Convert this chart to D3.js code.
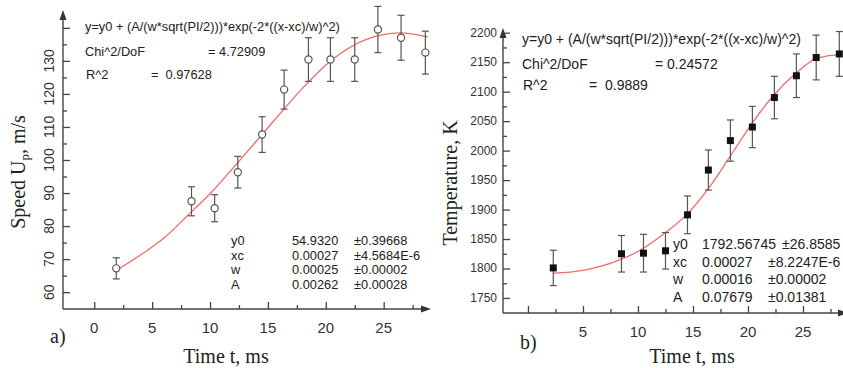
<!DOCTYPE html>
<html lang="en">
<head>
<meta charset="UTF-8">
<title>Gaussian fits: speed and temperature</title>
<script src="https://d3js.org/d3.v7.min.js"></script>
<style>
  body { margin: 0; padding: 0; background: #fff; }
  svg text { font-family: "Liberation Sans", Arial, sans-serif; fill: #222; white-space: pre; }
  .serif { font-family: "Liberation Serif", "Times New Roman", serif; }
  .axis line { stroke: #444; stroke-width: 1.3; }
  .axis path { display: none; }
</style>
</head>
<body>
<svg id="chart" width="843" height="368"></svg>
<script>
// ---- data ----
// panel a) speed
const speedTime = [1.9, 8.4, 10.4, 12.4, 14.5, 16.4, 18.5, 20.4, 22.5, 24.5, 26.5, 28.6];
const speedVal  = [67.2, 87.5, 85.4, 96.3, 107.7, 121.3, 130.4, 130.4, 130.4, 139.5, 137.0, 132.5];
const speedErr  = [3.2, 4.4, 4.1, 4.8, 5.4, 5.9, 6.6, 6.6, 6.6, 7.0, 6.8, 6.5];
const speedFitTime = [2.1, 4.6, 6.0, 8.0, 10.0, 12.0, 15.5, 17.8, 20.6, 23.5, 26.4, 28.8];
const speedFitVal  = [67.0, 72.7, 76.3, 83.0, 89.8, 97.6, 111.8, 121.0, 130.5, 136.5, 138.5, 137.3];
const speedYTicks = [60, 70, 80, 90, 100, 110, 120, 130];
const speedXTicks = [0, 5, 10, 15, 20, 25];
const speedParams = [["y0", "54.9320", "±0.39668"], ["xc", "0.00027", "±4.5684E-6"],
                     ["w", "0.00025", "±0.00002"], ["A", "0.00262", "±0.00028"]];

// panel b) temperature
const tempTime = [2.3, 8.5, 10.5, 12.5, 14.5, 16.4, 18.4, 20.4, 22.4, 24.4, 26.2, 28.3];
const tempVal  = [1801, 1825, 1826, 1830, 1891, 1967, 2017, 2040, 2090, 2127, 2158, 2164];
const tempErr  = [30, 31, 32, 31, 32, 34, 35, 35, 36, 37, 38, 38];
const tempFitTime = [2.3, 5.0, 8.4, 10.2, 12.3, 14.4, 16.5, 18.3, 20.4, 22.2, 24.4, 26.3, 28.4, 30.0];
const tempFitVal  = [1792, 1797, 1815, 1831, 1858, 1891, 1938, 1988, 2047, 2091, 2132, 2157, 2163, 2162];
const tempYTicks = [1750, 1800, 1850, 1900, 1950, 2000, 2050, 2100, 2150, 2200];
const tempXTicks = [5, 10, 15, 20, 25];
const tempParams = [["y0", "1792.56745", "±26.8585"], ["xc", "0.00027", "±8.2247E-6"],
                    ["w", "0.00016", "±0.00002"], ["A", "0.07679", "±0.01381"]];

const formula = "y=y0 + (A/(w*sqrt(PI/2)))*exp(-2*((x-xc)/w)^2)";

const svg = d3.select("#chart");
svg.append("defs").append("clipPath").attr("id", "clipAll")
    .append("rect").attr("width", 843).attr("height", 368);

function arrow(g, x, y, dir) {
    // small filled arrow head, dir "up" or "right"
    const p = dir === "up"
        ? [[x, y], [x - 3.5, y + 10], [x + 3.5, y + 10]]
        : [[x, y], [x - 10, y - 3.5], [x - 10, y + 3.5]];
    g.append("path").attr("d", d3.line()(p)).attr("fill", "#333");
}

function panel(cfg) {
    const g = svg.append("g").attr("clip-path", "url(#clipAll)");
    const x = d3.scaleLinear().domain(cfg.xDomain).range(cfg.xRange);
    const y = d3.scaleLinear().domain(cfg.yDomain).range(cfg.yRange);
    const x0 = cfg.xRange[0], yb = cfg.yRange[0];

    // axis lines
    g.append("line").attr("x1", x0).attr("x2", x0).attr("y1", yb).attr("y2", cfg.yRange[1] + 4)
        .attr("stroke", "#444").attr("stroke-width", 1.4);
    g.append("line").attr("x1", x0).attr("x2", cfg.xArrow - 4).attr("y1", yb).attr("y2", yb)
        .attr("stroke", "#444").attr("stroke-width", 1.4);
    arrow(g, x0, cfg.yRange[1], "up");
    arrow(g, cfg.xArrow, yb, "right");

    // ticks (inside)
    g.append("g").attr("class", "axis").attr("transform", `translate(${x0},0)`)
        .call(d3.axisLeft(y).tickValues(cfg.yMajor).tickSize(-7).tickFormat(""));
    g.append("g").attr("class", "axis").attr("transform", `translate(${x0},0)`)
        .call(d3.axisLeft(y).tickValues(cfg.yMinor).tickSize(-4).tickFormat(""));
    g.append("g").attr("class", "axis").attr("transform", `translate(0,${yb})`)
        .call(d3.axisBottom(x).tickValues(cfg.xMajor).tickSize(-7).tickFormat(""));
    g.append("g").attr("class", "axis").attr("transform", `translate(0,${yb})`)
        .call(d3.axisBottom(x).tickValues(cfg.xMinor).tickSize(-4).tickFormat(""));

    // x tick labels
    g.selectAll(".xl").data(cfg.xLabels).join("text")
        .attr("x", d => x(d)).attr("y", yb + 24)
        .attr("text-anchor", "middle").style("font-size", "15px").style("fill", "#333")
        .text(d => d);

    // y tick labels
    if (cfg.rotYLabels) {
        g.selectAll(".yl").data(cfg.yLabels).join("text")
            .attr("transform", d => `translate(${x0 - 9},${y(d)}) rotate(-90)`)
            .attr("text-anchor", "middle").style("font-size", "14px").style("fill", "#333")
            .text(d => d);
    } else {
        g.selectAll(".yl").data(cfg.yLabels).join("text")
            .attr("x", x0 - 6).attr("y", d => y(d) + 4)
            .attr("text-anchor", "end").style("font-size", "12px").style("fill", "#333")
            .text(d => d);
    }

    // fit curve
    const fit = d3.zip(cfg.fitT, cfg.fitV);
    g.append("path").datum(fit)
        .attr("fill", "none").attr("stroke", "#f26b6b").attr("stroke-width", 1.3)
        .attr("d", d3.line().x(d => x(d[0])).y(d => y(d[1])).curve(d3.curveMonotoneX));

    // error bars
    const pts = cfg.t.map((t, i) => ({ t, v: cfg.v[i], e: cfg.e[i] }));
    const eb = g.append("g").attr("stroke", "#555").attr("stroke-width", 1.2);
    eb.selectAll(".bar").data(pts).join("line")
        .attr("x1", d => x(d.t)).attr("x2", d => x(d.t))
        .attr("y1", d => y(d.v - d.e)).attr("y2", d => y(d.v + d.e));
    eb.selectAll(".capT").data(pts).join("line")
        .attr("x1", d => x(d.t) - 3.5).attr("x2", d => x(d.t) + 3.5)
        .attr("y1", d => y(d.v + d.e)).attr("y2", d => y(d.v + d.e));
    eb.selectAll(".capB").data(pts).join("line")
        .attr("x1", d => x(d.t) - 3.5).attr("x2", d => x(d.t) + 3.5)
        .attr("y1", d => y(d.v - d.e)).attr("y2", d => y(d.v - d.e));

    // markers
    if (cfg.marker === "circle") {
        g.selectAll(".pt").data(pts).join("circle")
            .attr("cx", d => x(d.t)).attr("cy", d => y(d.v)).attr("r", 3.6)
            .attr("fill", "#fff").attr("stroke", "#555").attr("stroke-width", 1.2);
    } else {
        g.selectAll(".pt").data(pts).join("rect")
            .attr("x", d => x(d.t) - 3.5).attr("y", d => y(d.v) - 3.5)
            .attr("width", 7).attr("height", 7).attr("fill", "#111");
    }

    // fit text
    const fs = cfg.textSize + "px";
    g.append("text").attr("x", cfg.txt.x).attr("y", cfg.txt.y0).style("font-size", fs).text(formula);
    g.append("text").attr("x", cfg.txt.x).attr("y", cfg.txt.y1).style("font-size", fs).text("Chi^2/DoF");
    g.append("text").attr("x", cfg.txt.chiX).attr("y", cfg.txt.y1).style("font-size", fs).text("= " + cfg.chi);
    g.append("text").attr("x", cfg.txt.x + 1).attr("y", cfg.txt.y2).style("font-size", fs).text("R^2");
    g.append("text").attr("x", cfg.txt.rX).attr("y", cfg.txt.y2).style("font-size", fs).text("=  " + cfg.r2);

    // parameter table
    const ts = cfg.tab.size + "px";
    cfg.params.forEach((row, i) => {
        row.forEach((cell, j) => {
            const cx = (j === 2 && cfg.tab.firstErrX && i === 0) ? cfg.tab.firstErrX : cfg.tab.cols[j];
            g.append("text").attr("x", cx).attr("y", cfg.tab.y + i * cfg.tab.dy)
                .style("font-size", ts).text(cell);
        });
    });

    // axis titles
    g.append("text").attr("class", "serif")
        .attr("x", cfg.xTitle[0]).attr("y", cfg.xTitle[1]).attr("text-anchor", "middle")
        .style("font-size", "20px").text("Time t, ms");
    g.append("text").attr("class", "serif")
        .attr("x", cfg.tag[0]).attr("y", cfg.tag[1])
        .style("font-size", "20px").text(cfg.tag[2]);
    const yt = g.append("text").attr("class", "serif")
        .attr("transform", `translate(${cfg.yTitle[0]},${cfg.yTitle[1]}) rotate(-90)`)
        .attr("text-anchor", "middle").style("font-size", "20px");
    cfg.yTitle[2].forEach(part => {
        const sp = yt.append("tspan").text(part.s);
        if (part.sub) sp.attr("dy", 4).style("font-size", "13px");
        if (part.after) sp.attr("dy", -4);
    });
}

const range = (a, b, s) => d3.range(a, b + s / 2, s);

panel({
    xDomain: [-2.7, 29.0], xRange: [63, 430], xArrow: 431,
    yDomain: [54.9, 145.4], yRange: [309, 10],
    yMajor: [...speedYTicks, 140], yMinor: range(65, 135, 10),
    xMajor: speedXTicks, xMinor: range(2.5, 27.5, 5),
    xLabels: speedXTicks, yLabels: speedYTicks, rotYLabels: true,
    t: speedTime, v: speedVal, e: speedErr, fitT: speedFitTime, fitV: speedFitVal,
    marker: "circle", textSize: 12.8,
    txt: { x: 85, y0: 31, y1: 56, y2: 79, chiX: 208, rX: 151 },
    chi: "4.72909", r2: "0.97628",
    params: speedParams, tab: { cols: [231, 292, 354], y: 245, dy: 14.6, size: 12.8 },
    xTitle: [226, 363], tag: [50, 343, "a)"],
    yTitle: [25, 172, [{ s: "Speed U" }, { s: "p", sub: true }, { s: ", m/s", after: true }]]
});

panel({
    xDomain: [-2.27, 30], xRange: [503, 858], xArrow: 848,
    yDomain: [1724.5, 2208], yRange: [313, 28],
    yMajor: tempYTicks, yMinor: range(1775, 2175, 50),
    xMajor: [0, ...tempXTicks, 30], xMinor: range(2.5, 27.5, 5),
    xLabels: tempXTicks, yLabels: tempYTicks, rotYLabels: false,
    t: tempTime, v: tempVal, e: tempErr, fitT: tempFitTime, fitV: tempFitVal,
    marker: "square", textSize: 14,
    txt: { x: 522, y0: 44, y1: 69, y2: 90, chiX: 655, rX: 589 },
    chi: "0.24572", r2: "0.9889",
    params: tempParams, tab: { cols: [673, 702, 768], y: 249, dy: 17.7, size: 14, firstErrX: 782 },
    xTitle: [692, 363], tag: [520, 349, "b)"],
    yTitle: [457, 183, [{ s: "Temperature, K" }]]
});
</script>
</body>
</html>
